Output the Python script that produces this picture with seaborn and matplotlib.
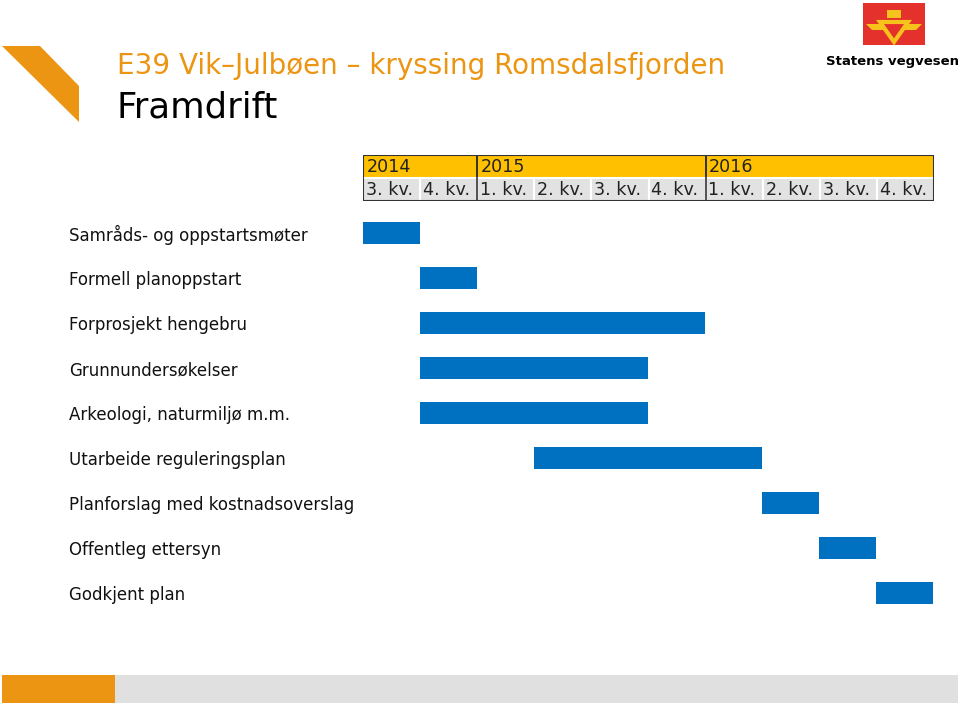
import matplotlib
matplotlib.use("Agg")
import matplotlib.pyplot as plt
from matplotlib.patches import Rectangle, Polygon
import seaborn as sns
import pandas as pd

tasks = ["Samråds- og oppstartsmøter", "Formell planoppstart", "Forprosjekt hengebru",
         "Grunnundersøkelser", "Arkeologi, naturmiljø m.m.", "Utarbeide reguleringsplan",
         "Planforslag med kostnadsoverslag", "Offentleg ettersyn", "Godkjent plan"]
start_q = [0, 1, 1, 1, 1, 3, 7, 8, 9]
end_q = [1, 2, 6, 5, 5, 7, 8, 9, 10]
years = ["2014", "2015", "2016"]
year_span = [(0, 2), (2, 6), (6, 10)]
quarters = ["3. kv.", "4. kv.", "1. kv.", "2. kv.", "3. kv.", "4. kv.",
            "1. kv.", "2. kv.", "3. kv.", "4. kv."]

sns.set_theme(style="white")
plt.rcParams["font.family"] = ["DejaVu Sans"]

W, H = 960, 709
fig = plt.figure(figsize=(W / 100, H / 100), dpi=100)

def fr(x0, y0, x1, y1):
    return [x0 / W, 1 - y1 / H, (x1 - x0) / W, (y1 - y0) / H]

BLUE = "#0070C0"
ORANGE = "#EC9512"

# Gantt axes
ax = fig.add_axes(fr(363, 210.5, 933, 615.5))
df = pd.DataFrame({"task": tasks, "start": start_q, "end": end_q})
sns.barplot(data=df, y="task", x="end", orient="h", color=BLUE, width=0.49,
            saturation=1, ax=ax)
for p, s, e in zip(ax.patches, df["start"], df["end"]):
    p.set_x(s)
    p.set_width(e - s)
    p.set_facecolor(BLUE)
    p.set_edgecolor("none")
ax.set_xlim(0, 10)
ax.set_ylim(8.5, -0.5)
ax.set_xlabel("")
ax.set_ylabel("")
ax.set_xticks([])
for sp in ax.spines.values():
    sp.set_visible(False)
ax.tick_params(axis="y", length=0, pad=(363 - 69) * 0.72)
for lab in ax.get_yticklabels():
    lab.set_horizontalalignment("left")
    lab.set_fontsize(12)
    lab.set_color("#111111")

# Header table
hx = fig.add_axes(fr(363, 155, 934, 201))
hx.set_xlim(0, 10)
hx.set_ylim(2, 0)
hx.axis("off")
for (a, b), y in zip(year_span, years):
    hx.add_patch(Rectangle((a, 0), b - a, 1, facecolor="#FFC000", edgecolor="#333333", lw=1.2))
    hx.text(a + 0.06, 0.52, y, va="center", ha="left", fontsize=12.6, color="#222222")
for i, q in enumerate(quarters):
    hx.add_patch(Rectangle((i, 1), 1, 1, facecolor="#E2E2E2", edgecolor="white", lw=1.5))
    hx.text(i + 0.05, 1.52, q, va="center", ha="left", fontsize=12.6, color="#222222")
for a, b in year_span:
    hx.plot([a, a], [0, 2], color="#333333", lw=1.2)
hx.add_patch(Rectangle((0, 0), 10, 2, facecolor="none", edgecolor="#333333", lw=1.5))

# Decorations
deco = fig.add_axes([0, 0, 1, 1])
deco.set_xlim(0, W)
deco.set_ylim(H, 0)
deco.axis("off")
deco.set_zorder(-1)
deco.add_patch(Polygon([(2, 46), (40, 46), (79, 86), (79, 122)], closed=True,
                       facecolor=ORANGE, edgecolor="none"))
deco.add_patch(Rectangle((2, 675), 113, 28, facecolor=ORANGE, edgecolor="none"))
deco.add_patch(Rectangle((115, 675), 843, 28, facecolor="#E0E0E0", edgecolor="none"))
# logo
deco.add_patch(Rectangle((863, 3), 62, 42, facecolor="#E4312B", edgecolor="none"))
deco.add_patch(Polygon([(880, 22), (908, 22), (894, 42)], closed=True,
                       facecolor="none", edgecolor="#F6C21C", lw=3))
deco.add_patch(Polygon([(866, 24), (884, 24), (884, 30), (872, 30)], closed=True,
                       facecolor="#F6C21C", edgecolor="none"))
deco.add_patch(Polygon([(922, 24), (904, 24), (904, 30), (916, 30)], closed=True,
                       facecolor="#F6C21C", edgecolor="none"))
deco.add_patch(Rectangle((887, 10), 14, 8, facecolor="#F6C21C", edgecolor="none"))
deco.text(893, 62, "Statens vegvesen", ha="center", va="center", fontsize=9.5,
          fontweight="bold", color="black")

fig.text(117 / W, 1 - 66 / H, "E39 Vik–Julbøen – kryssing Romsdalsfjorden",
         ha="left", va="center", fontsize=20, color=ORANGE)
fig.text(117 / W, 1 - 108 / H, "Framdrift", ha="left", va="center", fontsize=25.5,
         color="black")

fig.savefig("out.png", dpi=100)
